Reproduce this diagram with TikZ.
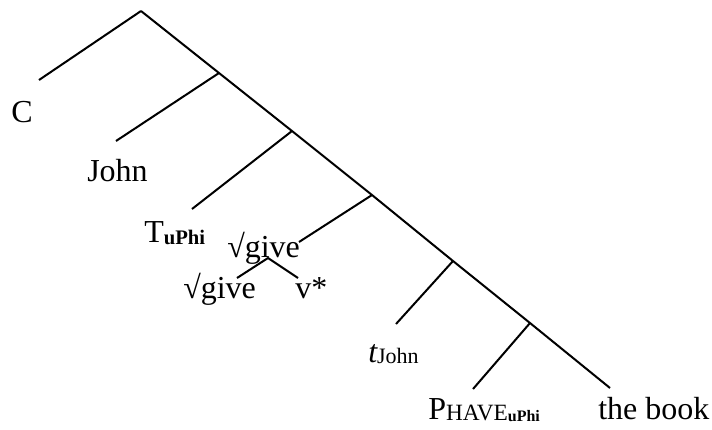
\documentclass[tikz,border=0pt]{standalone}
\usepackage{fontspec}
\setmainfont{Liberation Serif}
\begin{document}
\begin{tikzpicture}[x=0.75pt,y=-0.75pt,
  br/.style={line width=1.5pt},
  lbl/.style={anchor=base west, inner sep=0pt, font=\fontsize{24}{28}\selectfont}]
\useasboundingbox (0,0) rectangle (712,429);
% spine coordinates
\coordinate (top) at (141,11);
\coordinate (j1) at (219,73);
\coordinate (j2) at (292,131);
\coordinate (j3) at (372,195);
\coordinate (j4) at (453,261);
\coordinate (j5) at (530,323);
\coordinate (bookEnd) at (610,388);
% branch ends
\coordinate (cEnd) at (39,80);
\coordinate (johnEnd) at (116,141);
\coordinate (tEnd) at (192,209);
\coordinate (giveEnd) at (299,242);
\coordinate (tjEnd) at (396,324);
\coordinate (pEnd) at (473,389);
% small tree
\coordinate (gApex) at (268,258);
\coordinate (gLeft) at (237,278);
\coordinate (gRight) at (298,278);
% labels
\node[lbl] (C) at (11,122) {C};
\node[lbl] (John) at (87,181) {John};
\node[lbl] (T) at (144,242) {T\raisebox{-1.5pt}{\fontsize{15.5}{16}\selectfont\bfseries uPhi}};
\node[lbl] (give) at (227,257) {√give};
\node[lbl] (giveL) at (183,298) {√give};
\node[lbl] (v) at (295,298) {v*};
\node[lbl] (tJohn) at (368,362) {\itshape t\upshape\raisebox{-1pt}{\fontsize{16.5}{17}\selectfont John}};
\node[lbl] (P) at (428,419) {P\raisebox{-0.75pt}{\fontsize{17.5}{18}\selectfont HAVE\raisebox{-0.75pt}{\fontsize{12}{13}\selectfont\bfseries uPhi}}};
\node[lbl] (book) at (598,419) {the book};
% lines
\draw[br] (top) -- (j1) -- (j2) -- (j3) -- (j4) -- (j5) -- (bookEnd);
\draw[br] (top) -- (cEnd);
\draw[br] (j1) -- (johnEnd);
\draw[br] (j2) -- (tEnd);
\draw[br] (j3) -- (giveEnd);
\draw[br] (j4) -- (tjEnd);
\draw[br] (j5) -- (pEnd);
\draw[br] (gLeft) -- (gApex) -- (gRight);
\end{tikzpicture}
\end{document}
